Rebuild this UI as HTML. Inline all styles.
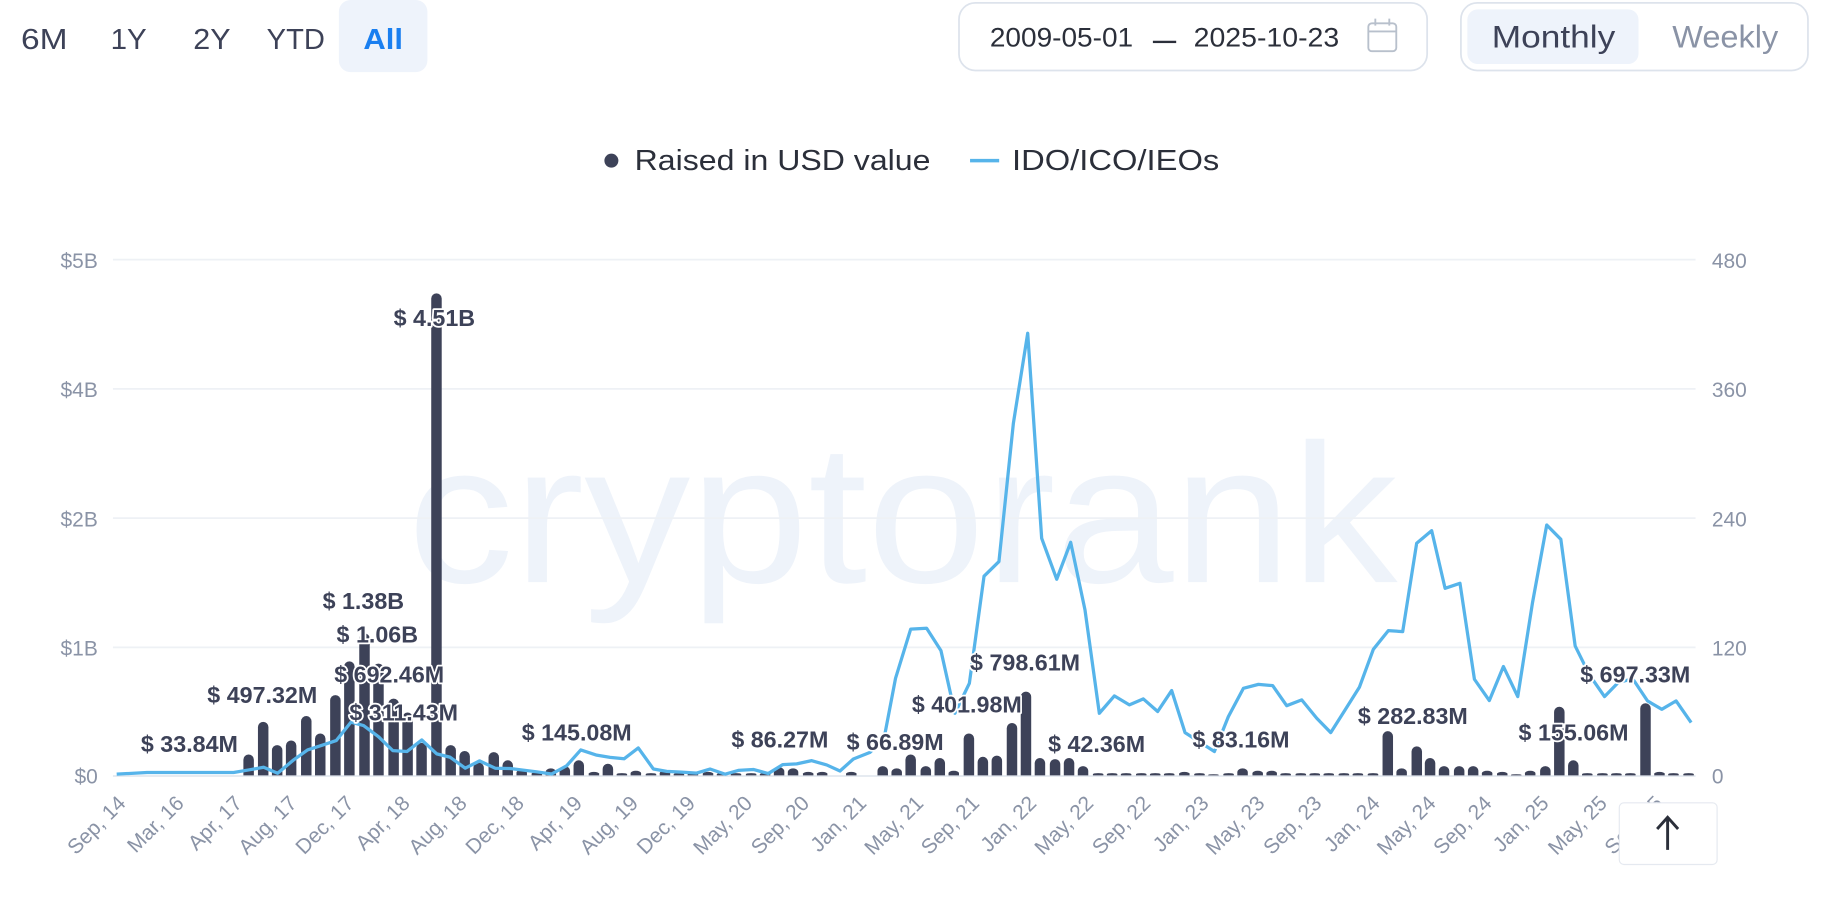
<!DOCTYPE html>
<html><head><meta charset="utf-8"><style>
html,body{margin:0;padding:0;background:#fff;}
svg{display:block;}
text{font-family:"Liberation Sans",sans-serif;}
.ax{fill:#8a93a6;font-size:18px;}
.lb{fill:#3d4258;font-size:20px;font-weight:bold;stroke:#fff;stroke-width:3px;paint-order:stroke;stroke-linejoin:round;}
</style></head><body>
<svg width="1826" height="900" viewBox="0 0 1568 773" preserveAspectRatio="none" xmlns="http://www.w3.org/2000/svg">
<rect width="1568" height="773" fill="#fff"/>
<g font-size="25" fill="#3d4258">
<text x="18" y="42" textLength="40" lengthAdjust="spacingAndGlyphs">6M</text><text x="95" y="42" textLength="31" lengthAdjust="spacingAndGlyphs">1Y</text><text x="166" y="42" textLength="32" lengthAdjust="spacingAndGlyphs">2Y</text><text x="229" y="42" textLength="50" lengthAdjust="spacingAndGlyphs">YTD</text>
</g>
<rect x="291" y="0" width="76" height="62" rx="10" fill="#eef3fb"/>
<text x="312" y="42" font-size="25" fill="#1a7ff0" font-weight="bold" textLength="34" lengthAdjust="spacingAndGlyphs">All</text>
<rect x="823.5" y="2.5" width="402" height="58" rx="14" fill="#fff" stroke="#dde3ec" stroke-width="1.5"/>
<text x="850" y="40" font-size="23" fill="#2b2f3a" textLength="123" lengthAdjust="spacingAndGlyphs">2009-05-01</text>
<rect x="990" y="35" width="20" height="2" fill="#2b2f3a"/>
<text x="1025" y="40" font-size="23" fill="#2b2f3a" textLength="125" lengthAdjust="spacingAndGlyphs">2025-10-23</text>
<g fill="none" stroke="#b8c0cc" stroke-width="1.6"><rect x="1175" y="20" width="24" height="24" rx="3"/><line x1="1175" y1="27" x2="1199" y2="27"/><line x1="1181" y1="16" x2="1181" y2="22"/><line x1="1193" y1="16" x2="1193" y2="22"/></g>
<rect x="1254.5" y="2.5" width="298" height="58" rx="14" fill="#fff" stroke="#dde3ec" stroke-width="1.5"/>
<rect x="1260" y="8" width="147" height="47" rx="9" fill="#eef3fb"/>
<text x="1281" y="41" font-size="27" fill="#3d4258" textLength="106" lengthAdjust="spacingAndGlyphs">Monthly</text>
<text x="1436" y="41" font-size="27" fill="#8a93a6" textLength="91" lengthAdjust="spacingAndGlyphs">Weekly</text>
<circle cx="525" cy="138" r="6" fill="#3d4258"/>
<text x="545" y="146" font-size="25" fill="#2b2f3a" textLength="254" lengthAdjust="spacingAndGlyphs">Raised in USD value</text>
<line x1="833" y1="138" x2="858" y2="138" stroke="#56b4ea" stroke-width="3"/>
<text x="869" y="146" font-size="25" fill="#2b2f3a" textLength="178" lengthAdjust="spacingAndGlyphs">IDO/ICO/IEOs</text>
<text x="350" y="500" font-size="170" fill="#eef3fa" textLength="850" lengthAdjust="spacingAndGlyphs">cryptorank</text>
<g stroke="#eef1f5" stroke-width="1.5">
<line x1="97" y1="223" x2="1456" y2="223"/><line x1="97" y1="334" x2="1456" y2="334"/><line x1="97" y1="445" x2="1456" y2="445"/><line x1="97" y1="556" x2="1456" y2="556"/><line x1="97" y1="666.5" x2="1456" y2="666.5" stroke="#e3e8ef"/>
</g>
<g class="ax" text-anchor="end">
<text x="84" y="230">$5B</text><text x="84" y="341">$4B</text><text x="84" y="452">$2B</text><text x="84" y="563">$1B</text><text x="84" y="673">$0</text>
</g>
<g class="ax" font-size="20">
<text x="1470" y="230">480</text><text x="1470" y="341">360</text><text x="1470" y="452">240</text><text x="1470" y="563">120</text><text x="1470" y="673">0</text>
</g>
<g id="bars" fill="#3d4258"></g>
<polyline fill="none" stroke="#56b4ea" stroke-width="2.8" stroke-linejoin="round" points="100.2,664.9 126.2,663.5 163.4,663.5 200.6,663.5 213.5,661.3 226.4,659 238.4,664.1 252.1,652.7 264.1,644.1 276.4,640.1 288.7,636.1 301.3,620.3 312.2,623.2 325,632.7 337.3,644.7 349.4,645.5 362.2,635.5 375.1,647.5 386.6,650.4 399.5,659.8 411.8,653.5 425.2,659.8 438.1,660.1 460.9,662.9 473.6,664.8 486.6,657.7 498.7,644.1 512.4,648.6 523.9,650.5 535.9,651.7 548.1,642.4 561.1,660.5 572.5,662.5 585.3,663.2 598.2,664 609.7,660.5 622.6,664.9 634,661.7 646.9,660.9 659.7,664.4 672.1,656.7 684.1,656.1 697,653.3 709.9,657 721.3,662.2 732.8,651.9 747.1,646.2 759,635 769,582.6 782,540.4 795.7,539.6 808,558.8 820,612.6 832.4,586.9 845,494.9 857.8,482.3 870.2,363.5 882.5,286.2 894.5,462.4 907.4,497.5 919.4,465.8 931.7,523.9 944,612.6 956.9,597.7 969.8,605.4 981.8,600.3 994.1,611.1 1006.1,593.1 1017.6,629.2 1042.8,645.5 1054.8,615.5 1067.7,591.2 1080.6,587.8 1092.9,588.9 1104.9,606.1 1117.8,601.1 1130.7,616.9 1142.7,629.2 1155,609.8 1167.3,590.3 1179.3,557.7 1192.2,541.6 1204.5,542.5 1216.5,466.6 1229.4,455.8 1240.9,505.3 1253.7,501 1266.1,583.4 1278.9,601.7 1291,572.5 1303.3,598.3 1315.9,518.1 1328.2,450.9 1340.3,463.2 1352.6,554.8 1364.9,579.7 1377.8,598.3 1389.8,586 1402.1,583.1 1414.7,602 1427,609.2 1439.3,602 1452.2,620.6"/>
<g class="lb">
<text x="338" y="280">$ 4.51B</text>
<text x="277" y="523">$ 1.38B</text>
<text x="289" y="552">$ 1.06B</text>
<text x="287" y="586">$ 692.46M</text>
<text x="300" y="619">$ 311.43M</text>
<text x="178" y="604">$ 497.32M</text>
<text x="121" y="646">$ 33.84M</text>
<text x="448" y="636">$ 145.08M</text>
<text x="628" y="642">$ 86.27M</text>
<text x="727" y="644">$ 66.89M</text>
<text x="783" y="612">$ 401.98M</text>
<text x="833" y="576">$ 798.61M</text>
<text x="900" y="646">$ 42.36M</text>
<text x="1024" y="642">$ 83.16M</text>
<text x="1166" y="622">$ 282.83M</text>
<text x="1304" y="636">$ 155.06M</text>
<text x="1357" y="586">$ 697.33M</text>
</g>
<g id="xl" class="ax" font-size="19" text-anchor="end"></g>
<rect x="1390.5" y="689.5" width="84" height="53" rx="4" fill="#fff" stroke="#e5e9f0"/>
<path d="M1432 730 V703 M1423 712 L1432 702 L1441 712" fill="none" stroke="#2b2f3a" stroke-width="2.5"/>
</svg>
<script>
var bars=[[213.5,648],[226,620],[238,640],[250,636],[263,615],[275,630],[288,597],[300,568],[313,544],[325,570],[338,600],[350,612],[362,638],[374.8,252],[387,640],[399,645],[411,655],[424,646],[436,653],[448,661],[461,663],[473,660],[485,658],[497,653],[510,663],[522,656],[534,664],[546,662],[559,664],[571,662],[583,664],[595,664],[608,663],[620,664],[632,664],[645,664],[657,664],[669,659],[681,660],[694,663],[706,663],[731,663],[758,658],[770,660],[782,648],[795,658],[807,651],[819,662],[832,630],[844,650],[856,649],[869,621],[881,594],[893,651],[906,652],[918,651],[930,658],[943,664],[955,664],[967,664],[980,664],[992,664],[1004,664],[1017,663],[1030,664],[1042,665],[1055,664],[1067,660],[1080,662],[1092,662],[1104,664],[1117,664],[1129,664],[1141,664],[1154,664],[1166,664],[1179,664],[1191.7,628],[1203.6,660],[1216.6,641],[1228,651],[1240,658],[1253,658],[1265,658],[1277,662],[1290,663],[1302,665],[1314,662],[1327,658],[1339,607],[1351,653],[1363,664],[1376,664],[1388,664],[1400,664],[1413,604],[1425,663],[1437,664],[1450,664]];
var g=document.getElementById('bars'),s='',w=4.5;
bars.forEach(function(b){var x=b[0],t=b[1],r=Math.min(w,(666-t)/2);s+='<path d="M'+(x-w)+',666 V'+(t+r)+' A'+w+' '+r+' 0 0 1 '+(x+w)+','+(t+r)+' V666 Z"/>';});
g.innerHTML=s;
var xl=[["Sep, 14",100],["Mar, 16",150],["Apr, 17",200],["Aug, 17",247],["Dec, 17",296],["Apr, 18",344],["Aug, 18",393],["Dec, 18",442],["Apr, 19",492],["Aug, 19",540],["Dec, 19",589],["May, 20",638],["Sep, 20",687],["Jan, 21",736],["May, 21",785],["Sep, 21",833],["Jan, 22",882],["May, 22",931],["Sep, 22",980],["Jan, 23",1030],["May, 23",1078],["Sep, 23",1127],["Jan, 24",1177],["May, 24",1225],["Sep, 24",1273],["Jan, 25",1322],["May, 25",1372],["Sep, 25",1420]];
var h='';xl.forEach(function(l){var x=l[1]+9,y=691;h+='<text x="'+x+'" y="'+y+'" transform="rotate(-45 '+x+' '+y+')">'+l[0]+'</text>';});
document.getElementById('xl').innerHTML=h;
</script>
</body></html>
